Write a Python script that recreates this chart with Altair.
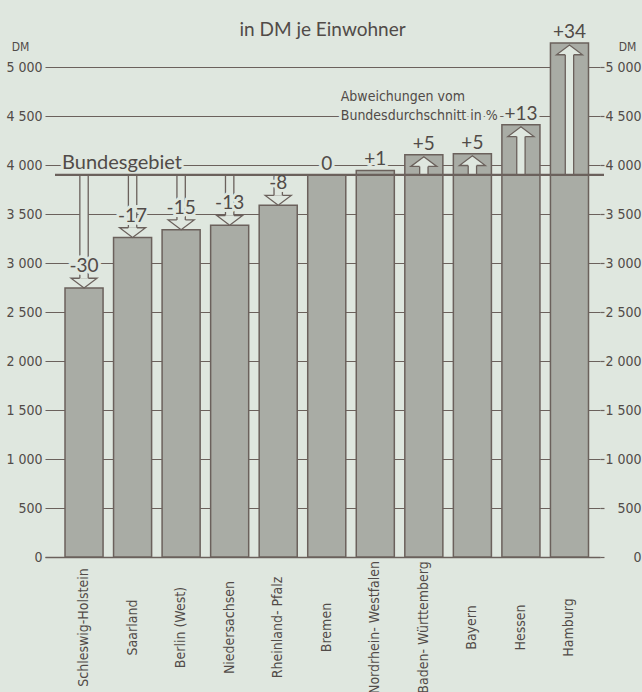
import altair as alt
import pandas as pd

# ---- data ----
states = ["Schleswig-Holstein", "Saarland", "Berlin (West)", "Niedersachsen",
          "Rheinland- Pfalz", "Bremen", "Nordrhein- Westfalen",
          "Baden- Württemberg", "Bayern", "Hessen", "Hamburg"]
dm_per_head = [2745, 3260, 3340, 3385, 3590, 3900, 3945, 4105, 4115, 4410, 5245]
pct_dev = [-30, -17, -15, -13, -8, 0, 1, 5, 5, 13, 34]
bund_avg = 3900
y_ticks = [0, 500, 1000, 1500, 2000, 2500, 3000, 3500, 4000, 4500, 5000]

ann_text = ["Abweichungen vom", "Bundesdurchschnitt in %"]
ann_y = [4690, 4500]

# ---- styles ----
BG = "#dfe7df"
BAR = "#a9aca5"
INK = "#6b615c"
TXT = "#514b48"
NARROW = "Liberation Sans Narrow, DejaVu Sans Condensed, Roboto Condensed, sans-serif"
GEO = "Lato, Open Sans, sans-serif"

df = pd.DataFrame({"state": states, "dm": dm_per_head, "pct": pct_dev})
df["base"] = bund_avg
df["label"] = [("0" if p == 0 else f"{p:+d}") for p in pct_dev]

ann = pd.DataFrame({"text": ann_text, "y": ann_y, "state": ["Bremen"] * 2})
bund_lab = pd.DataFrame({"text": ["Bundesgebiet"], "y": [bund_avg],
                         "state": [states[0]]})

fmt = "replace(format(datum.value, ',d'), ',', ' ')"

xscale = alt.Scale(paddingInner=0.216, paddingOuter=0.3245, align=0.635)
yscale = alt.Scale(domain=[0, 5000], nice=False, zero=True)

x_axis = alt.Axis(labelAngle=-90, labelAlign="center",
                  labelBaseline="middle", labelPadding=70,
                  labelFont=NARROW, labelFontSize=14,
                  labelColor=TXT, ticks=False, domain=True,
                  domainColor=INK, domainWidth=1.5, grid=False,
                  labelLimit=200)
x_enc = alt.X("state:N", sort=states, scale=xscale, title=None, axis=x_axis)

left_axis = alt.Axis(values=y_ticks, labelExpr=fmt, grid=True,
                     gridColor=INK, gridWidth=1.2, ticks=False, domain=False,
                     labelPadding=3, labelFont=NARROW, labelFontSize=14,
                     labelColor=TXT, title="DM", titleAngle=0, titleX=-25,
                     titleY=-14, titleAlign="center", titleBaseline="bottom",
                     titleFont=NARROW, titleFontSize=12, titleFontWeight="normal",
                     titleColor=TXT)
right_axis = alt.Axis(orient="right", values=y_ticks, labelExpr=fmt,
                      grid=False, ticks=True, tickSize=4, tickColor=INK,
                      tickWidth=1.2, domain=False, labelAlign="right",
                      labelPadding=37, labelFont=NARROW, labelFontSize=14,
                      labelColor=TXT, title="DM", titleAngle=0, titleX=27,
                      titleY=-14, titleAlign="center", titleBaseline="bottom",
                      titleFont=NARROW, titleFontSize=12,
                      titleFontWeight="normal", titleColor=TXT)

base = alt.Chart(df)

bars = base.mark_bar(fill=BAR, stroke=INK, strokeWidth=1.5).encode(
    x=x_enc, y=alt.Y("dm:Q", scale=yscale, axis=left_axis))

up_path = "M -0.33 0.75 L -1 0.75 L 0 0 L 1 0.75 L 0.33 0.75"
down_path = "M -0.33 -0.75 L -1 -0.75 L 0 0 L 1 -0.75 L 0.33 -0.75"

pos = base.transform_filter("datum.pct >= 5")
neg = base.transform_filter("datum.pct < 0")

pos_shaft = pos.mark_bar(width=alt.RelativeBandSize(0.22), fill=BG, stroke=INK,
                         strokeWidth=1.3, yOffset=9).encode(
    x=x_enc, y=alt.Y("dm:Q", scale=yscale, axis=None), y2="base:Q")
pos_head = pos.mark_point(shape=up_path, size=676, filled=True, fill=BG,
                          stroke=INK, strokeWidth=1.3, opacity=1,
                          yOffset=2).encode(
    x=x_enc, y=alt.Y("dm:Q", scale=yscale, axis=None))

neg_shaft = neg.mark_bar(width=alt.RelativeBandSize(0.22), fill=BG, stroke=INK,
                         strokeWidth=1.3, y2Offset=-9).encode(
    x=x_enc, y=alt.Y("base:Q", scale=yscale, axis=None), y2="dm:Q")
neg_head = neg.mark_point(shape=down_path, size=676, filled=True, fill=BG,
                          stroke=INK, strokeWidth=1.3, opacity=1).encode(
    x=x_enc, y=alt.Y("dm:Q", scale=yscale, axis=None))

bund_rule = base.mark_rule(color=INK, strokeWidth=2.2).encode(
    x=alt.value(10), x2=alt.value(559),
    y=alt.Y("mean(base):Q", scale=yscale, axis=right_axis))


def labels(src, dy, halo):
    kw = dict(font=GEO, fontSize=19, baseline="middle", align="center", dy=dy)
    if halo:
        kw.update(fill=BG, stroke=BG, strokeWidth=6, strokeJoin="round")
    else:
        kw.update(fill=TXT)
    return src.mark_text(**kw).encode(
        x=x_enc, y=alt.Y("dm:Q", scale=yscale, axis=None), text="label:N")


neg_l = base.transform_filter("datum.pct < 0")
pos_l = base.transform_filter("datum.pct >= 0")


def bund_text(halo):
    kw = dict(font=GEO, fontSize=20, baseline="middle", align="left",
              dx=-22, dy=-12)
    if halo:
        kw.update(fill=BG, stroke=BG, strokeWidth=6, strokeJoin="round")
    else:
        kw.update(fill=TXT)
    return alt.Chart(bund_lab).mark_text(**kw).encode(
        x=x_enc, y=alt.Y("y:Q", scale=yscale, axis=None), text="text:N")


def ann_layer(halo):
    kw = dict(font=NARROW, fontSize=14, baseline="middle", align="left", dx=14)
    if halo:
        kw.update(fill=BG, stroke=BG, strokeWidth=6, strokeJoin="round")
    else:
        kw.update(fill=TXT)
    return alt.Chart(ann).mark_text(**kw).encode(
        x=x_enc, y=alt.Y("y:Q", scale=yscale, axis=None), text="text:N")


chart = alt.layer(
    bars, pos_shaft, neg_shaft, pos_head, neg_head,
    labels(neg_l, -22, True), labels(pos_l, -11, True),
    bund_text(True), ann_layer(True),
    bund_rule,
    labels(neg_l, -22, False), labels(pos_l, -11, False),
    bund_text(False), ann_layer(False),
).resolve_axis(y="independent").properties(
    width=555, height=490,
    autosize=alt.AutoSizeParams(type="none"),
    padding={"left": 45, "top": 67, "right": 42, "bottom": 135},
    background=BG,
    title=alt.Title("in DM je Einwohner", font=GEO, fontSize=19,
                    fontWeight="normal", color=TXT, anchor="middle",
                    offset=4, dy=21),
).configure_view(stroke=None)

chart.save("out.html", embed_options={"renderer": "svg", "actions": False})
